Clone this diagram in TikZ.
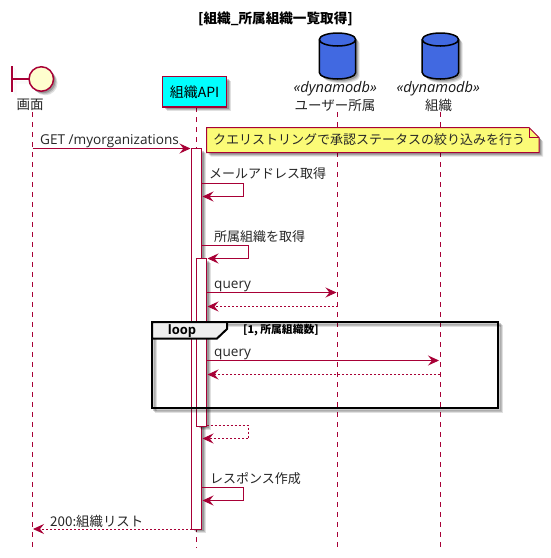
\documentclass[tikz,border=0pt]{standalone}
\usepackage{fontspec}
\setmainfont{Open Sans}
\newfontfamily\jp{Noto Sans CJK JP}
\usetikzlibrary{arrows.meta,shadows,shapes.geometric,calc}
\definecolor{pu}{HTML}{A80036}
\definecolor{ntf}{HTML}{FBFB77}
\definecolor{bdf}{HTML}{FEFECE}
\definecolor{dbf}{HTML}{4169E1}
\definecolor{tagf}{HTML}{EEEEEE}
\definecolor{apif}{HTML}{00FFFF}
\tikzset{
  shad/.style={
    general shadow={shadow xshift=4pt,shadow yshift=-4pt,fill=black,opacity=.12},
    general shadow={shadow xshift=3pt,shadow yshift=-3pt,fill=black,opacity=.15},
    general shadow={shadow xshift=2pt,shadow yshift=-2pt,fill=black,opacity=.2}},
  life/.style={draw=pu,line width=.9pt,dash pattern=on 5pt off 5pt},
  msg/.style={draw=pu,line width=1pt,-{Stealth[length=11pt,width=10pt,inset=4pt,fill=pu]}},
  ret/.style={msg,dash pattern=on 2pt off 2pt},
  lbl/.style={inner sep=0pt,anchor=base west,font=\fontsize{13.6}{15}\selectfont,text=black!85},
  jlbl/.style={inner sep=0pt,anchor=west,font=\fontsize{13}{15}\jp,text=black!85},
  act/.style={draw=pu,line width=1pt,fill=white,shad},
  db/.style={draw=black,line width=1.5pt,fill=dbf},
  pname/.style={inner sep=0pt,font=\fontsize{13.5}{15}\jp,text=black!85},
  stereo/.style={inner sep=0pt,font=\fontsize{14.6}{15}\itshape,text=black!90},
  fshadow/.style={draw=black,line width=2pt,opacity=#1},
}
\begin{document}
\begin{tikzpicture}[x=1pt,y=-1pt]
\useasboundingbox (0,0) rectangle (550,558);
\fill[white] (0,0) rectangle (550,558);
\node[inner sep=0pt,font=\fontsize{13.6}{15}\jp\bfseries] (title) at (275.5,19) {[組織\_所属組織一覧取得]};

% participants
\coordinate (uiTop) at (32.5,112);  \coordinate (uiBot) at (32.5,548);
\coordinate (apiTop) at (196.5,107);\coordinate (apiBot) at (196.5,548);
\coordinate (usrTop) at (337.5,112);\coordinate (usrBot) at (337.5,548);
\coordinate (orgTop) at (440,112);  \coordinate (orgBot) at (440,548);

\draw[life] (uiTop) -- (uiBot);
\draw[life] (apiTop) -- (apiBot);
\draw[life] (usrTop) -- (usrBot);
\draw[life] (orgTop) -- (orgBot);

% boundary
\draw[draw=pu,line width=1.5pt,shad] (12,66) -- (12,92);
\draw[draw=pu,line width=1.5pt,shad] (12,79) -- (29,79);
\node[circle,draw=pu,line width=1.5pt,fill=bdf,minimum size=24.5pt,inner sep=0pt,shad] (uicirc) at (41.3,79) {};
\node[pname] (ui) at (30,105) {画面};

\node[rectangle,draw=pu,line width=1.5pt,fill=apif,minimum width=64pt,minimum height=30.5pt,inner sep=0pt,shad,font=\fontsize{14}{15}\jp,text=black] (api) at (194.5,91.8) {組織API};

% databases
\foreach \c/\n in {337.5/usrdb,440.4/orgdb}{
  \path[db,shad] (\c-18.2,39.5) arc[start angle=180,end angle=360,x radius=18.2,y radius=6.5]
     -- (\c+18.2,72.5) arc[start angle=0,end angle=180,x radius=18.2,y radius=6.5] -- cycle;
  \draw[db,fill=none] (\c-18.2,39.5) arc[start angle=180,end angle=0,x radius=18.2,y radius=6.5];
}
\node[stereo] (usrst) at (335.3,88.5) {«dynamodb»};
\node[pname] (usr) at (335,105) {ユーザー所属};
\node[stereo] (orgst) at (438.3,88.5) {«dynamodb»};
\node[pname] (org) at (438.5,105) {組織};

% activations
\draw[act] (191.5,148.5) rectangle (201.5,529);
\draw[act] (196.5,258.5) rectangle (206.5,426);

% note
\draw[draw=pu,line width=1pt,fill=ntf,shad] (206.5,127.5) -- (529,127.5) -- (539,137.5) -- (539,152.5) -- (206.5,152.5) -- cycle;
\draw[draw=pu,line width=1pt] (529,127.5) -- (529,137.5) -- (539,137.5);
\node[inner sep=0pt,anchor=west,font=\fontsize{13}{15}\jp,text=black!85] (note) at (213,140) {クエリストリングで承認ステータスの絞り込みを行う};

% loop frame
\draw[fshadow=.12] (156,326) rectangle (501.5,411.5);
\draw[fshadow=.15] (155,325) rectangle (500.5,410.5);
\draw[fshadow=.2] (154,324) rectangle (499.5,409.5);
\draw[draw=black,line width=2pt,fill=tagf] (152,322) -- (227,322) -- (227,329) -- (217,338.5) -- (152,338.5) -- cycle;
\draw[draw=black,line width=2pt] (152,322) rectangle (497.5,407.5);
\node[inner sep=0pt,font=\fontsize{13}{15}\bfseries] (looplbl) at (182,331) {loop};
\node[inner sep=0pt,anchor=west,font=\fontsize{10.8}{12}\jp\bfseries] (guard) at (243,330.5) {[1, 所属組織数]};

% messages
\coordinate (m1a) at (32.5,148.5); \coordinate (m1b) at (190.5,148.5);
\draw[msg] (m1a) -- (m1b);
\node[lbl] (t1) at (40,144) {GET /myorganizations};

\coordinate (m2a) at (201.5,183.5); \coordinate (m2b) at (243.5,183.5);
\coordinate (m2c) at (243.5,196.5); \coordinate (m2d) at (202.5,196.5);
\draw[msg] (m2a) -- (m2b) -- (m2c) -- (m2d);
\node[jlbl] (t2) at (209,174) {メールアドレス取得};

\coordinate (m3a) at (201.5,245.5); \coordinate (m3b) at (248.5,245.5);
\coordinate (m3c) at (248.5,258.5); \coordinate (m3d) at (207.5,258.5);
\draw[msg] (m3a) -- (m3b) -- (m3c) -- (m3d);
\node[jlbl] (t3) at (214,237) {所属組織を取得};

\coordinate (m4a) at (206.5,292.5); \coordinate (m4b) at (336.5,292.5);
\draw[msg] (m4a) -- (m4b);
\node[lbl] (t4) at (214,288.5) {query};
\coordinate (m5a) at (337.5,306.5); \coordinate (m5b) at (207.5,306.5);
\draw[ret] (m5a) -- (m5b);

\coordinate (m6a) at (206.5,360.5); \coordinate (m6b) at (439,360.5);
\draw[msg] (m6a) -- (m6b);
\node[lbl] (t6) at (214,356.5) {query};
\coordinate (m7a) at (440,374.5); \coordinate (m7b) at (207.5,374.5);
\draw[ret] (m7a) -- (m7b);

\coordinate (m8a) at (206.5,425.5); \coordinate (m8b) at (248.5,425.5);
\coordinate (m8c) at (248.5,438.5); \coordinate (m8d) at (202.5,438.5);
\draw[ret] (m8a) -- (m8b) -- (m8c) -- (m8d);

\coordinate (m9a) at (201.5,487.5); \coordinate (m9b) at (243.5,487.5);
\coordinate (m9c) at (243.5,500.5); \coordinate (m9d) at (202.5,500.5);
\draw[msg] (m9a) -- (m9b) -- (m9c) -- (m9d);
\node[jlbl] (t9) at (210,479) {レスポンス作成};

\coordinate (m10a) at (191.5,529); \coordinate (m10b) at (33,529);
\draw[ret] (m10a) -- (m10b);
\node[jlbl,font=\fontsize{13.4}{15}\jp] (t10) at (50,521) {200:組織リスト};
\end{tikzpicture}
\end{document}
